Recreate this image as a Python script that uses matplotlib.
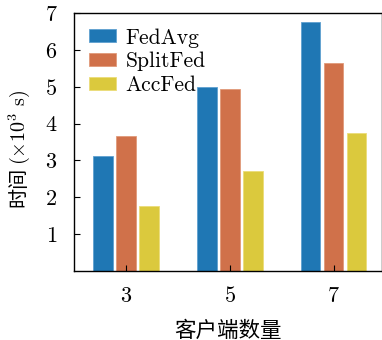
import matplotlib
matplotlib.use('Agg')
import matplotlib.pyplot as plt
import numpy as np

# -- Data --
clients = [3, 5, 7]
fedavg = [3.12, 4.98, 6.75]
splitfed = [3.65, 4.93, 5.64]
accfed = [1.76, 2.70, 3.74]

plt.rcParams['font.family'] = ['cmr10', 'Noto Sans CJK SC']
plt.rcParams['mathtext.fontset'] = 'cm'
plt.rcParams['axes.formatter.use_mathtext'] = True

fig = plt.figure(figsize=(3.82, 3.4), dpi=100)
ax = fig.add_axes([0.194, 0.203, 0.805, 0.759])

x = np.array(clients, dtype=float)
w = 0.37
off = 0.442
ax.bar(x - off, fedavg, w, color='#1f77b4', edgecolor='#5fa0d0', linewidth=0.6, label='FedAvg')
ax.bar(x, splitfed, w, color='#d0714a', edgecolor='#e09a7a', linewidth=0.6, label='SplitFed')
ax.bar(x + off, accfed, w, color='#dbc93d', edgecolor='#ebdc78', linewidth=0.6, label='AccFed')

ax.set_xlim(2, 7.92)
ax.set_ylim(0, 7)
ax.set_xticks(clients)
ax.set_yticks([1, 2, 3, 4, 5, 6, 7])
ax.tick_params(direction='in', labelsize=16, length=4)
ax.tick_params(axis='x', pad=11)
ax.tick_params(axis='y', pad=12)
for s in ax.spines.values():
    s.set_linewidth(1.0)

ax.set_xlabel('客户端数量', fontsize=15.5, labelpad=10)

# y label: CJK part + mathtext part chained together
t1 = fig.text(0.05, 0.45, '时间', rotation=90, fontsize=14.5,
              ha='center', va='center', family='Noto Sans CJK SC')
ax.annotate('($\\times 10^3$ s)', xy=(0.5, 1), xycoords=t1, xytext=(0, 1),
            textcoords='offset points', fontsize=14.5,
            rotation=90, ha='center', va='bottom')

ax.legend(loc='upper left', frameon=False, fontsize=15.5, handlelength=1.25,
          handleheight=0.56, labelspacing=0.2, borderaxespad=0.3, borderpad=0.4,
          handletextpad=0.45)

fig.savefig('out.png', dpi=100)
